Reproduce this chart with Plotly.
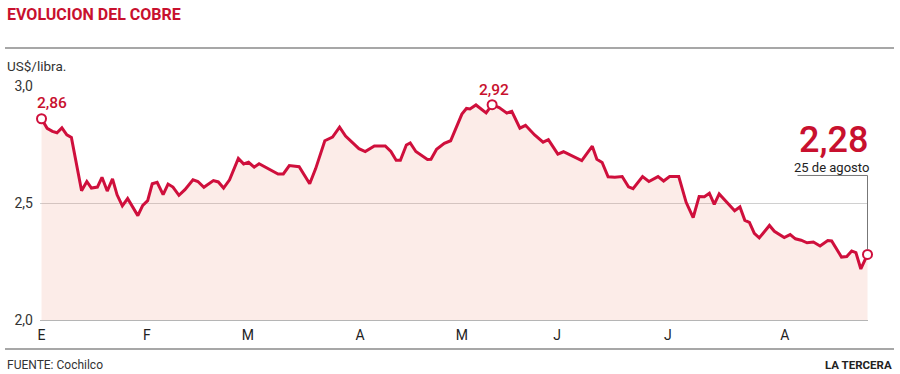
import plotly.graph_objects as go

# ---------------- data ----------------
# day of year 2015 (fractional) and copper price US$/lb
dia = [2.0, 3.6, 5.1, 6.4, 7.8, 9.2, 10.5, 13.4, 14.9, 16.2,
       17.9, 19.2, 20.7, 22.2, 23.5, 25.0, 26.5, 29.4, 30.8, 32.2,
       33.5, 34.9, 36.6, 38.0, 39.4, 41.1, 42.8, 45.1, 46.5, 48.2,
       50.9, 52.3, 53.8, 55.5, 58.0, 59.5, 60.9, 62.5, 63.9, 66.2,
       69.3, 70.8, 72.5, 75.3, 78.3, 80.0, 82.6, 84.8, 86.8, 88.5,
       89.8, 92.3, 94.1, 96.7, 99.8, 101.4, 102.9, 104.1, 105.8, 106.9,
       108.5, 111.8, 112.8, 114.4, 116.6, 118.4, 121.6, 122.9, 123.9, 125.6,
       128.5, 130.2, 132.2, 134.4, 135.8, 138.1, 139.7, 142.3, 144.7, 146.2,
       147.5, 148.9, 150.5, 153.0, 155.7, 158.7, 160.0, 161.5, 163.2, 165.1,
       167.2, 169.0, 170.3, 173.0, 174.8, 177.4, 179.0, 180.7, 183.3, 185.4,
       187.4, 189.1, 190.6, 192.0, 193.4, 194.8, 197.1, 199.2, 200.7, 202.1,
       203.4, 204.8, 206.2, 209.1, 210.5, 213.3, 215.0, 216.5, 218.1, 219.8,
       221.6, 223.5, 225.7, 226.8, 229.6, 231.1, 232.5, 233.7, 235.1, 237.0]

precio = [2.86, 2.819, 2.806, 2.800, 2.821, 2.791, 2.780, 2.552, 2.592, 2.564,
          2.568, 2.610, 2.551, 2.603, 2.535, 2.488, 2.519, 2.446, 2.490, 2.510,
          2.582, 2.588, 2.536, 2.581, 2.568, 2.533, 2.557, 2.599, 2.592, 2.567,
          2.596, 2.590, 2.564, 2.599, 2.690, 2.667, 2.674, 2.653, 2.668, 2.649,
          2.624, 2.624, 2.660, 2.655, 2.582, 2.647, 2.766, 2.782, 2.824, 2.786,
          2.768, 2.732, 2.720, 2.744, 2.744, 2.720, 2.683, 2.683, 2.748, 2.757,
          2.720, 2.686, 2.687, 2.730, 2.755, 2.766, 2.880, 2.904, 2.902, 2.919,
          2.885, 2.92, 2.908, 2.884, 2.892, 2.820, 2.832, 2.791, 2.760, 2.771,
          2.741, 2.709, 2.719, 2.700, 2.681, 2.743, 2.687, 2.673, 2.612, 2.610,
          2.613, 2.569, 2.561, 2.613, 2.592, 2.613, 2.594, 2.613, 2.613, 2.503,
          2.438, 2.528, 2.527, 2.542, 2.494, 2.539, 2.500, 2.467, 2.483, 2.426,
          2.417, 2.370, 2.351, 2.404, 2.379, 2.352, 2.365, 2.347, 2.341, 2.330,
          2.333, 2.316, 2.340, 2.338, 2.269, 2.271, 2.295, 2.288, 2.218, 2.28]

mes_pos = [2, 32, 60.7, 92.6, 121.6, 148.7, 180.2, 213.5]
mes_lbl = ["E", "F", "M", "A", "M", "J", "J", "A"]

y_ticks = [2.0, 2.5, 3.0]

titulo = "EVOLUCION DEL COBRE"
unidad = "US$/libra."
fuente = "FUENTE: Cochilco"
medio = "LA TERCERA"
fecha_final = "25 de agosto"

# ---------------- styling ----------------
W, H = 900, 374
ML, MR, MT, MB = 40, 32, 86, 54
PW, PH = W - ML - MR, H - MT - MB
RED = "#cf0f3c"
RED_T = "#c8102e"
FILL = "rgba(235,128,102,0.15)"
FONT = "Roboto"


def px_x(p):
    return (p - ML) / PW


def px_y(p):
    return (H - MB - p) / PH


i_max = max(range(len(precio)), key=lambda i: precio[i])
hi = [0, i_max, len(precio) - 1]

fig = go.Figure()
fig.add_trace(go.Scatter(
    x=dia, y=precio, mode="lines",
    line=dict(color=RED, width=3),
    fill="tozeroy", fillcolor=FILL,
    hoverinfo="skip", showlegend=False,
))
fig.add_trace(go.Scatter(
    x=[dia[i] for i in hi], y=[precio[i] for i in hi], mode="markers",
    marker=dict(size=9, color="white", line=dict(color=RED, width=2)),
    hoverinfo="skip", showlegend=False, cliponaxis=False,
))

ann = []
# header / footer
ann.append(dict(text="<b>" + titulo + "</b>", x=px_x(5), y=px_y(14), xref="paper", yref="paper",
                xanchor="left", yanchor="middle", showarrow=False,
                font=dict(family=FONT, size=16, color=RED_T, weight=900)))
ann.append(dict(text=unidad, x=px_x(5), y=px_y(66), xref="paper", yref="paper",
                xanchor="left", yanchor="middle", showarrow=False,
                font=dict(family=FONT, size=13.5, color="#333333")))
ann.append(dict(text=fuente, x=px_x(5), y=px_y(365), xref="paper", yref="paper",
                xanchor="left", yanchor="middle", showarrow=False,
                font=dict(family=FONT, size=12, color="#333333")))
ann.append(dict(text="<b>" + medio + "</b>", x=px_x(894), y=px_y(365), xref="paper", yref="paper",
                xanchor="right", yanchor="middle", showarrow=False,
                font=dict(family=FONT, size=11.5, color="#222222")))


def fmt(v):
    return f"{v:.2f}".replace(".", ",")


# value labels
ann.append(dict(text=fmt(precio[0]), x=dia[0], y=precio[0], xref="x", yref="y",
                xanchor="center", yanchor="middle", xshift=10, yshift=16, showarrow=False,
                font=dict(family=FONT, size=15.5, color=RED_T, weight=500)))
ann.append(dict(text=fmt(precio[i_max]), x=dia[i_max], y=precio[i_max], xref="x", yref="y",
                xanchor="center", yanchor="middle", xshift=2, yshift=15, showarrow=False,
                font=dict(family=FONT, size=15.5, color=RED_T, weight=500)))
ann.append(dict(text=fmt(precio[-1]), x=dia[-1], y=precio[-1], xref="x", yref="y",
                xanchor="right", yanchor="middle", xshift=2, yshift=114, showarrow=False,
                font=dict(family=FONT, size=36, color=RED_T, weight=500)))
ann.append(dict(text=fecha_final, x=dia[-1], y=precio[-1], xref="x", yref="y",
                xanchor="right", yanchor="middle", xshift=3, yshift=87, showarrow=False,
                font=dict(family=FONT, size=13, color="#222222")))

shapes = [
    dict(type="line", xref="paper", yref="paper", x0=px_x(5), x1=px_x(894),
         y0=px_y(48), y1=px_y(48), line=dict(color="#8a8a8a", width=1.5)),
    dict(type="line", xref="paper", yref="paper", x0=px_x(5), x1=px_x(894),
         y0=px_y(349), y1=px_y(349), line=dict(color="#8a8a8a", width=1.5)),
    # leader line for the last value
    dict(type="line", xref="x", yref="y", xsizemode="pixel", ysizemode="pixel",
         xanchor=dia[-1], yanchor=precio[-1], x0=0, x1=0, y0=5, y1=79,
         line=dict(color="#777777", width=1)),
    dict(type="line", xref="x", yref="y", xsizemode="pixel", ysizemode="pixel",
         xanchor=dia[-1], yanchor=precio[-1], x0=-70, x1=0, y0=79, y1=79,
         line=dict(color="#777777", width=1)),
]

fig.update_layout(
    width=W, height=H,
    margin=dict(l=ML, r=MR, t=MT, b=MB, autoexpand=False),
    paper_bgcolor="white", plot_bgcolor="white",
    separators=",.",
    font=dict(family=FONT, size=14, color="#333333"),
    annotations=ann, shapes=shapes,
    xaxis=dict(range=[1.57, 237.14], tickvals=mes_pos, ticktext=mes_lbl,
               showgrid=False, zeroline=False, showline=True, linecolor="#b5b5b5", linewidth=1,
               ticks="", ticklabelstandoff=2, tickfont=dict(size=14, color="#222222"),
               fixedrange=True, automargin=False),
    yaxis=dict(range=[2.0, 3.0], tickvals=y_ticks, tickformat=".1f",
               showgrid=True, gridcolor="#d0d0d0", gridwidth=1, zeroline=False, showline=False,
               ticks="", ticklabelstandoff=6, tickfont=dict(size=14, color="#333333"),
               fixedrange=True, automargin=False),
)

fig.write_html(
    "out.html",
    config={"displayModeBar": False},
    post_script="document.body.style.margin='0';document.body.style.overflow='hidden';",
)
